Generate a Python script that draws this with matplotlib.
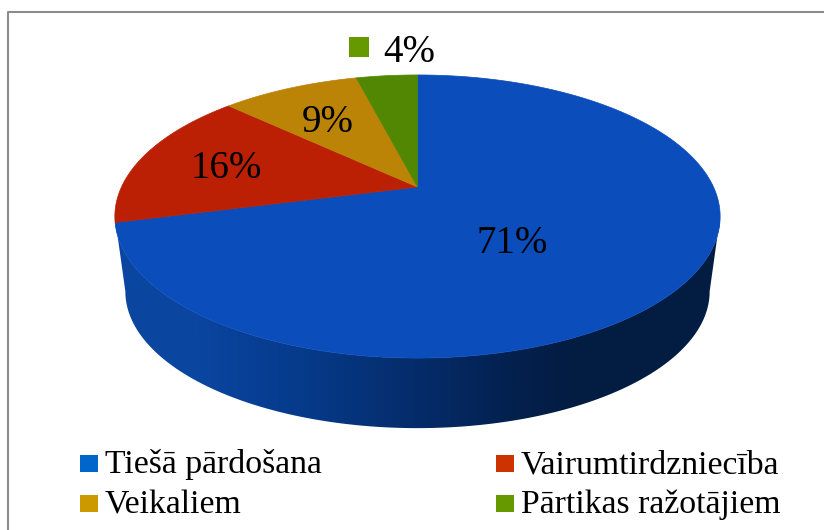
import matplotlib
matplotlib.use('Agg')
import matplotlib.pyplot as plt
import numpy as np
from matplotlib.colors import LinearSegmentedColormap
from matplotlib.patches import Polygon, Rectangle

plt.rcParams['font.family'] = ['Liberation Serif', 'DejaVu Serif']

categories = ['Tiešā pārdošana', 'Vairumtirdzniecība', 'Veikaliem', 'Pārtikas ražotājiem']
shares = [71, 16, 9, 4]
top_colors = ['#0a4dbb', '#bb2004', '#bb8406', '#518703']
key_colors = ['#0066cc', '#cc3300', '#cc9900', '#669900']

# perspective of the disc, in picture pixels
CX = 417.5
K = 0.2085
AX = 296.0


def project(t, y0, by, scale=1.0):
    # t is clockwise from the top of the pie
    u, v = np.sin(t), np.cos(t)
    w = 1 + K * v
    return CX + scale * AX * u / w, y0 - scale * by * v / w


def top_face(t):
    return project(t, 187, 135.4)


def base_face(t):
    return project(t, 263, 135.4, 292 / 302.5)


fig = plt.figure(figsize=(8.24, 5.30), dpi=100)
ax = fig.add_axes([0, 0, 1, 1])
ax.set_xlim(0, 824)
ax.set_ylim(530, 0)
ax.axis('off')

# frame, only left and top are inside the picture
ax.plot([8, 8, 830], [535, 12, 12], color='#8c8c8c', lw=1.5, zorder=1)

# side of the pie
tt = np.radians(np.linspace(90 + 12, 270 - 12, 200))
tx, ty = top_face(tt)
bx, by = base_face(tt[::-1])
side = Polygon(np.c_[np.r_[tx, bx], np.r_[ty, by]], closed=True, fc='none', ec='none',
               transform=ax.transData)
ax.add_patch(side)
side_cmap = LinearSegmentedColormap.from_list('side', [
    (0.0, '#0a47a0'), (0.14, '#0a45a0'), (0.31, '#063a8a'), (0.5, '#052c6a'),
    (0.65, '#03214f'), (0.75, '#031c42'), (1.0, '#041e42')])
im = ax.imshow(np.linspace(0, 1, 256).reshape(1, -1), cmap=side_cmap, aspect='auto',
               extent=[115, 720, 435, 200], zorder=2)
im.set_clip_path(side)
ax.set_xlim(0, 824)
ax.set_ylim(530, 0)

# top of the pie
edges = np.r_[0, np.cumsum(shares)] / sum(shares) * 2 * np.pi
for start, end, color in zip(edges[:-1], edges[1:], top_colors):
    t = np.linspace(start, end, 200)
    x, y = top_face(t)
    ax.add_patch(Polygon(np.c_[np.r_[CX, x], np.r_[187, y]], closed=True, fc=color, ec=color,
                         lw=0.5, zorder=3))

# value labels
label_pos = [(512, 253), (226, 178), (328, 132)]
for share, (lx, ly) in zip(shares[:3], label_pos):
    ax.text(lx, ly, f'{share}%', fontsize=28, ha='center', va='baseline', color='black', zorder=5)
ax.add_patch(Rectangle((349, 37), 20, 20, fc=key_colors[3], ec='none', zorder=5))
ax.text(409, 62, f'{shares[3]}%', fontsize=28, ha='center', va='baseline', color='black', zorder=5)

# legend
key_x = [80, 496, 80, 496]
key_y = [455, 455, 495, 495]
for i in range(4):
    ax.add_patch(Rectangle((key_x[i], key_y[i]), 18, 17, fc=key_colors[i], ec='none', zorder=5))
    ax.text(key_x[i] + 25, key_y[i] + 18, categories[i], fontsize=24.3, ha='left', va='baseline',
            color='black', zorder=5)

fig.savefig('out.png', dpi=100, facecolor='white')
